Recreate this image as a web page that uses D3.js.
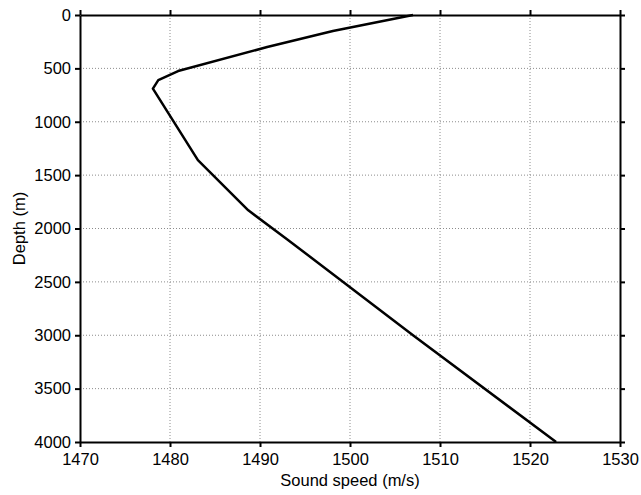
<!DOCTYPE html>
<html>
<head>
<meta charset="utf-8">
<script src="https://cdn.jsdelivr.net/npm/d3@7"></script>
<style>
    body { margin: 0; background: #fff; }
    text { font-family: "Liberation Sans", Arial, sans-serif; }
</style>
</head>
<body>
<div id="chart"></div>
<script>
// sound speed profile
const depth = [0, 150, 300, 525, 610, 690, 1360, 1830, 2100, 3000, 4000];
const speed = [1507.0, 1498.1, 1490.8, 1480.9, 1478.7, 1478.1, 1483.1, 1488.7, 1493.0, 1507.0, 1522.9];

const xTicks = [1470, 1480, 1490, 1500, 1510, 1520, 1530];
const yTicks = [0, 500, 1000, 1500, 2000, 2500, 3000, 3500, 4000];

const width = 641;
const height = 495;
const margin = { left: 80, right: 21, top: 15, bottom: 53 };

const svg = d3.select('#chart')
    .append('svg')
    .attr('width', width)
    .attr('height', height);

const x = d3.scaleLinear()
    .domain([1470, 1530])
    .range([margin.left, width - margin.right]);

const y = d3.scaleLinear()
    .domain([0, 4000])
    .range([margin.top, height - margin.bottom]);

const fmt = d3.format('d');

// grid lines
const grid = svg.append('g')
    .attr('stroke', '#8c8c8c')
    .attr('stroke-width', 1)
    .attr('stroke-dasharray', '1,2');

grid.selectAll('.gx')
    .data(xTicks.slice(1, -1))
    .enter()
    .append('line')
    .attr('x1', d => x(d))
    .attr('x2', d => x(d))
    .attr('y1', y(0))
    .attr('y2', y(4000));

grid.selectAll('.gy')
    .data(yTicks.slice(1, -1))
    .enter()
    .append('line')
    .attr('x1', x(1470))
    .attr('x2', x(1530))
    .attr('y1', d => y(d))
    .attr('y2', d => y(d));

// axes on all four sides
function styleAxis(g, showLabels) {
    g.selectAll('path').attr('stroke', '#000').attr('stroke-width', 2);
    g.selectAll('line').attr('stroke', '#000').attr('stroke-width', 2);
    g.selectAll('text')
        .attr('fill', '#000')
        .style('font-size', '16.5px')
        .style('display', showLabels ? null : 'none');
}

svg.append('g')
    .attr('transform', `translate(0,${y(4000)})`)
    .call(d3.axisBottom(x).tickValues(xTicks).tickFormat(fmt).tickSize(5).tickPadding(6).tickSizeOuter(0))
    .call(g => styleAxis(g, true));

svg.append('g')
    .attr('transform', `translate(0,${y(0)})`)
    .call(d3.axisTop(x).tickValues(xTicks).tickSize(5).tickSizeOuter(0))
    .call(g => styleAxis(g, false));

svg.append('g')
    .attr('transform', `translate(${x(1470)},0)`)
    .call(d3.axisLeft(y).tickValues(yTicks).tickFormat(fmt).tickSize(5).tickPadding(4).tickSizeOuter(0))
    .call(g => styleAxis(g, true));

svg.append('g')
    .attr('transform', `translate(${x(1530)},0)`)
    .call(d3.axisRight(y).tickValues(yTicks).tickSize(5).tickSizeOuter(0))
    .call(g => styleAxis(g, false));

// profile line
const line = d3.line()
    .x(d => x(d[1]))
    .y(d => y(d[0]));

svg.append('path')
    .datum(depth.map((d, i) => [d, speed[i]]))
    .attr('d', line)
    .attr('fill', 'none')
    .attr('stroke', '#000')
    .attr('stroke-width', 2.5)
    .attr('stroke-linejoin', 'round');

// axis titles
svg.append('text')
    .attr('x', (x(1470) + x(1530)) / 2)
    .attr('y', 486)
    .attr('text-anchor', 'middle')
    .style('font-size', '16.5px')
    .text('Sound speed (m/s)');

svg.append('text')
    .attr('transform', `translate(25,${(y(0) + y(4000)) / 2}) rotate(-90)`)
    .attr('text-anchor', 'middle')
    .style('font-size', '16.5px')
    .text('Depth (m)');
</script>
</body>
</html>
